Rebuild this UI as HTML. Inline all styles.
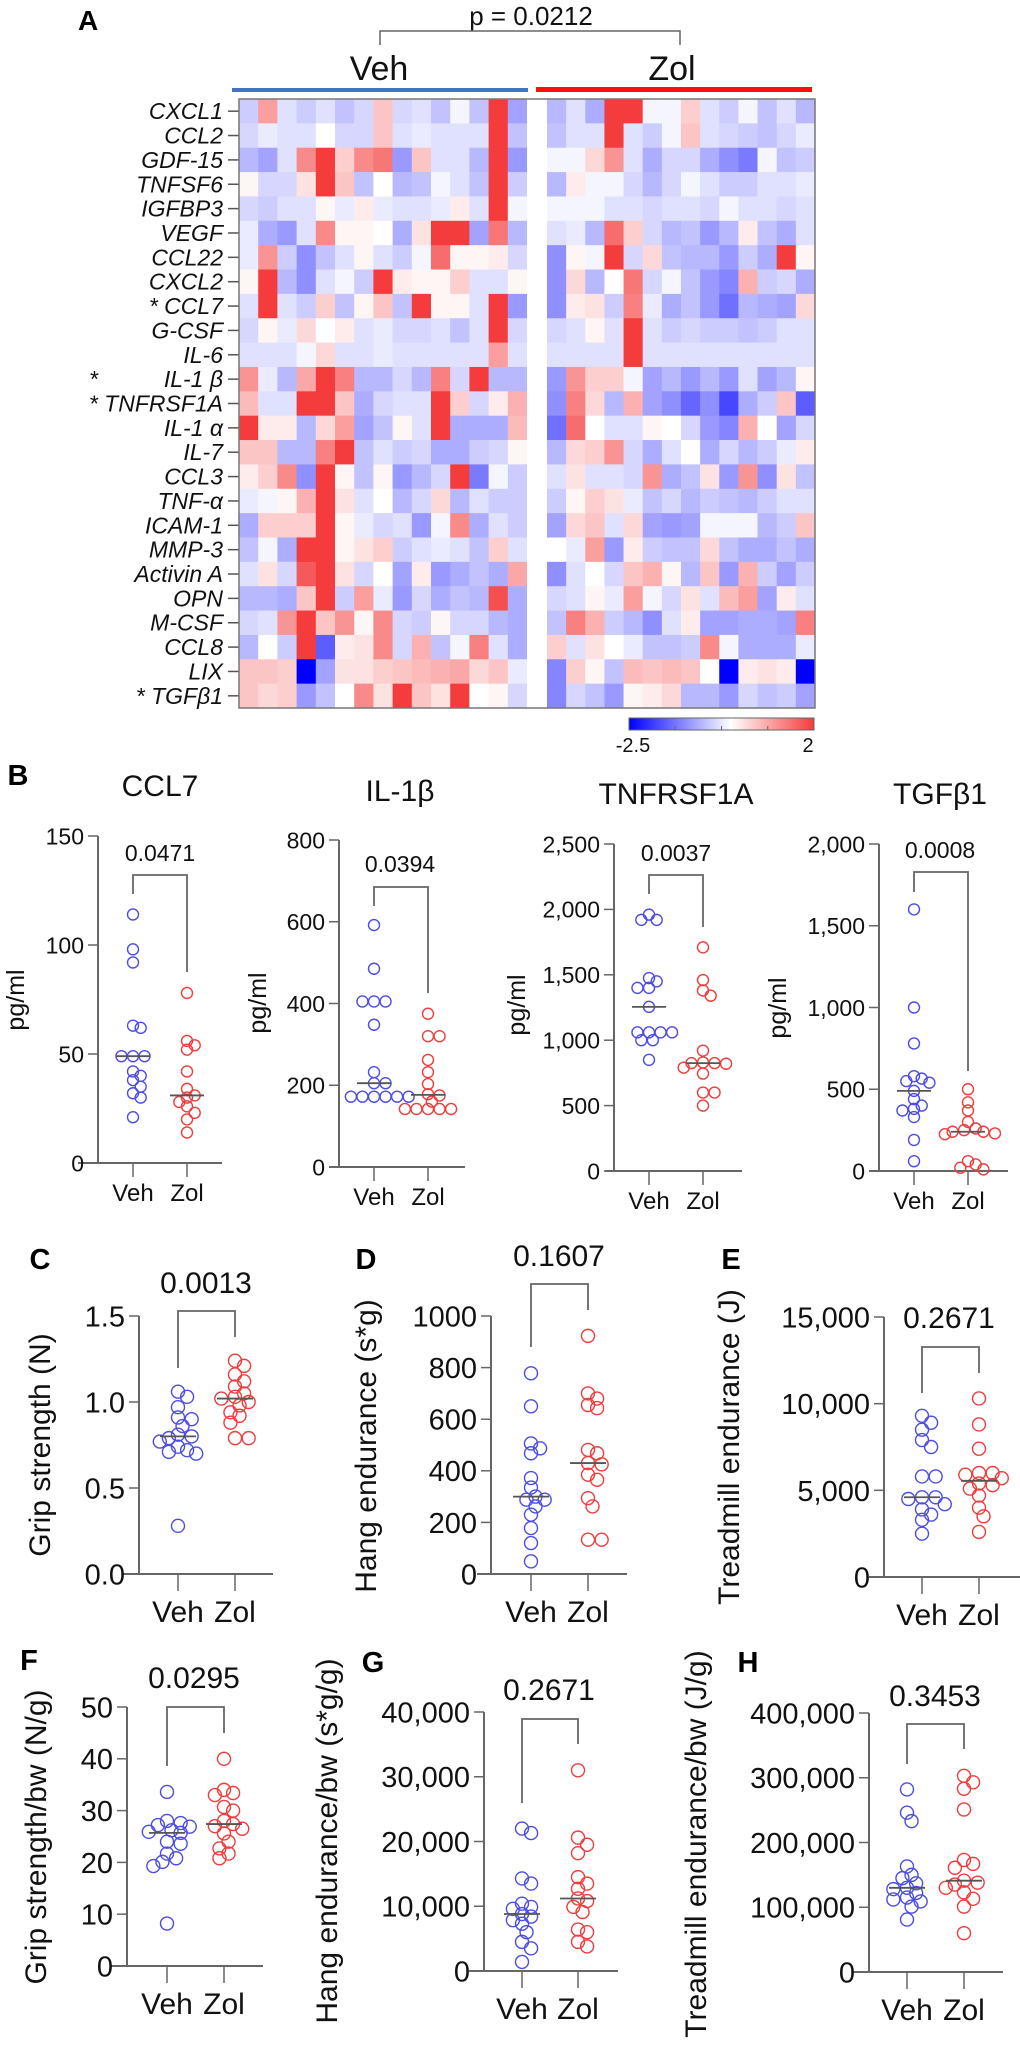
<!DOCTYPE html>
<html><head><meta charset="utf-8"><title>Cytokine heatmap and scatter panels</title>
<style>
html,body{margin:0;padding:0;background:#fff;}
svg{display:block;font-family:"Liberation Sans",Arial,sans-serif;}
</style></head>
<body>
<svg id="fig" width="1020" height="2052" viewBox="0 0 1020 2052" xmlns="http://www.w3.org/2000/svg">
<defs>
<linearGradient id="cbar" x1="0" x2="1" y1="0" y2="0">
<stop offset="0" stop-color="#0000ff"/><stop offset="0.55" stop-color="#ffffff"/><stop offset="1" stop-color="#f43c3c"/>
</linearGradient>
</defs>
<g id="heat"></g>
<g id="scat"></g>
</svg>
<script>
// ---------- Heatmap data ----------
const rowLabels = ["CXCL1","CCL2","GDF-15","TNFSF6","IGFBP3","VEGF","CCL22","CXCL2","* CCL7","G-CSF","IL-6","IL-1 β","* TNFRSF1A","IL-1 α","IL-7","CCL3","TNF-α","ICAM-1","MMP-3","Activin A","OPN","M-CSF","CCL8","LIX","* TGFβ1"];
const vehMatrix = [
[-0.5,1.0,-0.3,-0.5,-0.3,-0.6,-0.4,0.6,-0.4,-0.3,-0.6,-0.1,-0.6,2,-0.9],
[-0.4,-0.2,-0.3,-0.3,0,-0.4,-0.4,0.6,-0.3,-0.2,-0.3,-0.3,-0.3,2,-0.6],
[-0.7,-0.9,-0.3,1.2,2,0.5,1.2,1.4,-1.0,0.6,-0.3,-0.3,-0.7,2,-1.0],
[0.1,-0.4,-0.4,0.3,2,0.6,-0.6,0,-0.7,-0.6,-0.1,-0.3,-0.6,2,-0.5],
[-0.4,-0.5,-0.3,-0.3,0.1,-0.2,0.2,-0.2,-0.3,-0.3,-0.2,0.2,-0.3,2,-0.1],
[-0.2,-0.8,-1.0,-0.3,1.2,0.1,0.1,0,-0.8,0.3,2,2,-0.9,1.4,-0.7],
[-0.2,1.1,-0.5,-1.1,-0.6,-0.3,0.1,-0.3,-0.5,-0.1,1.5,0.1,0.1,0.2,-0.4],
[0.1,2,-0.7,-1.1,-0.3,-0.1,-0.5,2,0.2,0.1,0.1,0.5,-0.3,-0.3,0.1],
[-0.3,2,-0.3,-0.5,0.5,-0.6,0.1,0.6,-0.6,2,0.1,0.1,-0.3,2,-1.0],
[-0.4,0.1,-0.2,0.4,0,0.2,-0.3,-0.2,-0.4,-0.4,-0.3,-0.6,-0.3,2,-0.4],
[-0.3,-0.3,-0.3,-0.1,0.4,-0.3,-0.3,-0.2,-0.3,-0.3,-0.3,-0.3,-0.3,1.0,-0.3],
[1.1,-0.2,-0.7,0.9,2,1.3,-0.7,-0.7,-0.4,-0.7,1.3,-0.4,2,-0.7,-0.7],
[0.7,-0.3,-0.3,2,2,0.6,-0.8,-0.4,-0.3,-0.3,2,0.5,-0.4,0.2,0.8],
[2,0.2,0.2,-0.7,0.4,1.0,-0.9,-0.6,0.1,-0.3,2,-0.8,-0.8,-0.8,0.7],
[0.6,0.6,-0.7,-0.7,1.3,2,-0.6,-0.3,-0.5,-0.4,-0.8,-0.8,-0.5,-0.4,0.1],
[0.2,0.5,1.2,-1.1,2,0.1,-0.6,0.1,-1.0,-0.7,-0.4,2,-1.3,-0.1,-0.5],
[-0.2,-0.1,0.1,0.8,2,0.3,-0.3,0,-0.7,-0.4,0.4,-0.7,-0.3,-0.5,-0.5],
[-0.8,0.5,0.5,0.5,2,0.1,-0.2,-0.4,-0.3,-1.0,-0.1,1.2,-0.8,-0.3,-0.5],
[-0.6,-0.1,-0.8,2,2,0.1,0.3,0.5,-0.5,-0.3,-0.2,-0.3,-0.6,0.5,-0.3],
[-0.3,0.3,-0.4,1.7,2,0.3,-0.4,0,-0.9,0.2,-1.0,-0.8,-0.6,-0.8,0.9],
[-0.7,-0.7,-0.8,0.6,2,-0.5,1.0,-0.2,-1.0,-0.4,-0.8,-0.6,-0.7,1.8,-0.8],
[-0.4,-0.3,1.1,2,0.6,1.1,0.1,1.2,-0.4,-0.5,0.1,-0.4,-0.4,-0.7,-0.8],
[-0.7,0,-0.5,2,-1.6,0.2,0.3,1.2,-0.4,0.8,-0.6,-0.1,1.3,-0.3,-0.8],
[0.6,0.6,0.5,-2.5,-0.9,0.3,0.3,0.5,0.6,0.7,0.8,0.9,0.4,0.6,-0.2],
[0.6,0.4,0.5,-1.0,-0.6,0,1.2,0.3,2,0.6,0.3,2,0,0.1,-0.4]];
const zolMatrix = [
[-0.7,-0.3,-0.8,2,2,-0.1,-0.1,0.5,-0.3,-0.5,-0.1,-0.6,-0.3,-0.7],
[-0.6,-0.3,-0.3,2,-0.3,-0.5,-0.1,0.6,-0.3,-0.4,-0.5,-0.6,-0.4,-0.2],
[-0.1,-0.1,0.4,1.1,-0.3,-0.8,-0.4,-0.4,-0.8,-1.1,-1.3,-0.1,-0.6,-0.5],
[-0.7,0.2,-0.1,-0.1,-0.4,-0.7,-0.4,-0.1,-0.3,-0.5,-0.5,-0.3,-0.3,-0.2],
[-0.1,-0.1,-0.1,-0.3,-0.3,-0.4,-0.3,-0.3,-0.4,-0.1,-0.3,-0.3,-0.4,-0.3],
[-0.3,-0.2,-0.7,1.5,0.5,-0.4,-0.7,-0.6,-1.0,-0.7,0.2,-0.6,-0.8,-0.3],
[-1.1,0.1,-0.1,2,-0.4,0.4,-0.6,-0.7,-0.7,-1.0,-0.5,-0.8,2,0.1],
[-1.1,0.4,-0.7,0,1.4,-0.4,-0.1,-0.6,-1.0,-1.2,0.8,-0.5,-0.4,-0.8],
[-1.1,0.2,0.3,-0.5,1.3,-0.2,-0.8,-0.6,-1.0,-1.4,-0.7,-0.8,-0.9,0.4],
[-0.4,-0.3,0.1,-0.3,2,-0.3,-0.5,-0.4,-0.5,-0.5,-0.6,-0.5,-0.3,-0.3],
[-0.3,-0.3,-0.3,-0.3,2,-0.3,-0.3,-0.3,-0.3,-0.3,-0.3,-0.3,-0.3,-0.3],
[-1.0,1.1,0.5,0.5,-0.1,-0.9,-0.7,-1.0,-0.7,-1.0,-0.3,-0.9,-0.7,0.1],
[-1.1,1.3,0.4,-0.7,0.8,-0.9,-1.1,-1.5,-1.1,-1.8,-0.8,-0.5,0.6,-1.6],
[-1.4,1.5,0,-0.3,-0.3,0.1,0,-0.4,-1.0,-1.2,0.8,0,-0.9,-0.4],
[-0.7,0.4,0.5,1.1,-0.4,-0.8,-0.3,0,-0.8,-0.4,-0.7,-0.5,-0.2,0.2],
[-0.3,0.3,-0.3,-0.3,-0.4,1.1,-0.8,-0.6,0.3,-1.0,1.1,-1.1,0.3,-0.6],
[-0.5,0.1,0.5,0.3,-0.2,-0.6,-0.4,-0.7,-0.5,-0.6,-0.7,-0.5,-0.3,-0.3],
[-0.9,0.4,0.6,-0.3,0.4,-0.9,-1.0,-0.9,-0.1,-0.1,-0.1,-0.7,-0.5,0.6],
[0,-0.2,1.0,-1.0,0.2,-0.5,-0.6,-0.6,0.4,-0.6,-0.8,-0.8,-0.6,-0.8],
[-1.1,-0.3,0,-0.4,0.6,0.8,0.1,-0.7,0.6,-1.0,0.8,-0.5,-0.9,-0.5],
[-0.4,-0.3,0.1,-0.2,1.0,-0.1,-0.4,0.3,-0.3,0.7,1.0,-0.9,0.2,-0.3],
[-0.6,1.3,0.8,-0.5,-0.7,-1.1,-0.3,0.2,-0.9,-0.9,-0.8,-0.8,-0.9,1.3],
[0.5,-0.3,0.3,0,-0.2,-0.6,-0.6,-0.5,1.2,-0.1,-0.8,-0.8,-0.8,-0.2],
[-1.2,0.5,0.1,-0.6,0.7,0.6,0.7,0.6,0,-2.5,0.2,0.3,0.2,-2.5],
[-1.2,-0.4,-0.6,-1.0,0.1,0.2,0.4,-0.7,-0.7,-1.0,-0.4,-0.6,-0.5,-0.9]];
const colorbarTicks = ["-2.5","2"];

// ---------- Scatter data ----------
const groupLabels = ["Veh","Zol"];
const ccl7Veh=[114,98,92,63,62,49,49,49,42,40,38,35,32,30,21];
const ccl7Zol=[78,56,54,52,42,34,31,30,28,26,23,20,14];
const il1bVeh=[592,485,405,405,405,348,232,205,205,172,172,172,172,172,172];
const il1bZol=[375,320,320,262,232,203,178,175,160,142,142,142,142,142];
const tnfVeh=[1960,1920,1920,1475,1450,1400,1400,1255,1060,1060,1060,1060,1000,1000,850];
const tnfZol=[1710,1460,1380,1340,920,830,825,825,820,790,745,600,600,500];
const tgfVeh=[1600,1000,780,580,565,550,540,490,440,400,380,370,330,190,60];
const tgfZol=[500,420,370,300,260,250,240,240,230,225,60,40,20,10];
const gripVeh=[1.06,1.03,0.97,0.91,0.90,0.86,0.81,0.80,0.79,0.77,0.74,0.72,0.71,0.70,0.28];
const gripZol=[1.24,1.21,1.16,1.12,1.09,1.05,1.03,1.02,1.00,0.98,0.94,0.92,0.88,0.79,0.79];
const hangVeh=[778,650,506,487,468,372,335,300,288,288,262,230,178,120,49];
const hangZol=[923,700,680,655,643,481,468,430,425,385,365,294,262,133,133];
const treadVeh=[9300,8900,8500,7900,7500,5800,5800,4600,4600,4500,4200,3900,3600,3300,2500];
const treadZol=[10300,8800,7400,6000,6000,5900,5700,5400,5300,5100,4700,4000,3500,2600];
const gripBwVeh=[33.6,28,27.6,27.2,26.9,26.2,25.9,25.7,24,23.6,21.7,20.8,20.1,19.3,8.2];
const gripBwZol=[40,34,33.4,33,30.7,30,28,27.4,27,26.5,25.6,24,22.7,21.7,20.8];
const hangBwVeh=[22000,21300,14300,13500,10400,9900,9600,8800,8400,7850,7300,6000,4500,3500,1400];
const hangBwZol=[31000,20600,19500,18200,14500,13500,12700,11200,10800,9900,9100,6400,6000,4500,3800];
const treadBwVeh=[282000,246000,233000,163000,150000,145000,137000,130000,128000,122000,115000,112000,109000,101000,81000];
const treadBwZol=[303000,293000,283000,251000,173000,167000,161000,141000,138000,135000,130000,123000,113000,101000,60000];
const ccl7Ticks=[0,50,100,150], il1bTicks=[0,200,400,600,800], tnfTicks=[0,500,1000,1500,2000,2500], tgfTicks=[0,500,1000,1500,2000];
const gripTicks=[0,0.5,1.0,1.5], hangTicks=[0,200,400,600,800,1000], treadTicks=[0,5000,10000,15000];
const gripBwTicks=[0,10,20,30,40,50], hangBwTicks=[0,10000,20000,30000,40000], treadBwTicks=[0,100000,200000,300000,400000];
const pValues=["0.0471","0.0394","0.0037","0.0008","0.0013","0.1607","0.2671","0.0295","0.2671","0.3453"];

const NS="http://www.w3.org/2000/svg";
function mk(parent, tag, attrs, text){
  const e=document.createElementNS(NS,tag);
  for(const k in attrs) e.setAttribute(k,attrs[k]);
  if(text!==undefined) e.textContent=text;
  parent.appendChild(e); return e;
}
function heatColor(v){
  if(v<0){const t=Math.min(1,-v/2.5);return `rgb(${Math.round(255*(1-t))},${Math.round(255*(1-t))},255)`;}
  const t=Math.min(1,v/2);return `rgb(${Math.round(255-11*t)},${Math.round(255-195*t)},${Math.round(255-195*t)})`;
}

// ---------- Draw heatmap ----------
const heat=document.getElementById('heat');
const HM={y0:99,rowH:24.36,vehX0:239,vehW:19.2,zolX0:547,zolW:19.14};
rowLabels.forEach((lab,r)=>{
  const yc=HM.y0+r*HM.rowH;
  vehMatrix[r].forEach((v,c)=>{
    const cell=mk(heat,'rect',{x:HM.vehX0+c*HM.vehW,y:yc,width:HM.vehW+0.4,height:HM.rowH+0.4,fill:heatColor(v)});
    
    
  });
  zolMatrix[r].forEach((v,c)=>{
    const cell=mk(heat,'rect',{x:HM.zolX0+c*HM.zolW,y:yc,width:HM.zolW+0.4,height:HM.rowH+0.4,fill:heatColor(v)});
    
    
  });
  const t=mk(heat,'text',{x:223,y:yc+HM.rowH/2+8,'text-anchor':'end','font-size':23,'font-style':'italic',fill:'#111'},lab);
  
  
  mk(heat,'line',{x1:228,x2:239,y1:yc+HM.rowH/2,y2:yc+HM.rowH/2,stroke:'#555','stroke-width':1.5});
});
const hmBottom=HM.y0+rowLabels.length*HM.rowH;
mk(heat,'rect',{x:HM.vehX0+15*HM.vehW,y:HM.y0,width:HM.zolX0-(HM.vehX0+15*HM.vehW),height:hmBottom-HM.y0,fill:'#fff'});
mk(heat,'rect',{x:239,y:99,width:576,height:hmBottom-99,fill:'none',stroke:'#777','stroke-width':1.5});
const star=mk(heat,'text',{x:90,y:HM.y0+11*HM.rowH+HM.rowH/2+8,'font-size':23,fill:'#111'},'*');


mk(heat,'text',{x:78,y:30,'font-size':28,'font-weight':'bold',fill:'#000',},'A');
mk(heat,'text',{x:531,y:25,'font-size':26,'text-anchor':'middle',fill:'#111',},'p = 0.0212');
mk(heat,'path',{d:'M380 45 V31 H680 V45',fill:'none',stroke:'#666','stroke-width':1.5,});
mk(heat,'text',{x:379,y:80,'font-size':34,'text-anchor':'middle',fill:'#111',},'Veh');
mk(heat,'text',{x:672,y:80,'font-size':34,'text-anchor':'middle',fill:'#111',},'Zol');
mk(heat,'rect',{x:232,y:88,width:296,height:4,fill:'#4472c4',});
mk(heat,'rect',{x:536,y:87,width:276,height:5,fill:'#ff1010',});
mk(heat,'rect',{x:629,y:718,width:185,height:12,fill:'url(#cbar)',stroke:'#666','stroke-width':1,});
[0.25,0.5,0.75].forEach(f=>mk(heat,'line',{x1:629+185*f,x2:629+185*f,y1:726,y2:730,stroke:'#666','stroke-width':1}));
mk(heat,'text',{x:633,y:752,'font-size':20,'text-anchor':'middle',fill:'#111',},colorbarTicks[0]);
mk(heat,'text',{x:808,y:752,'font-size':20,'text-anchor':'middle',fill:'#111',},colorbarTicks[1]);

// ---------- Scatter panels ----------
const scat=document.getElementById('scat');
function fmt(v,dec,nocomma){ if(dec) return v.toFixed(1); if(nocomma) return String(v); return v.toLocaleString('en-US'); }
function median(a){const s=[...a].sort((x,y)=>x-y);const n=s.length;return n%2?s[(n-1)/2]:(s[n/2-1]+s[n/2])/2;}
function swarm(vals,cx,yf,r){
  const placed=[];const out=[];
  const order=vals.map((v,i)=>i).sort((a,b)=>vals[b]-vals[a]);
  const minD=1.45*r;
  order.forEach(i=>{
    const y=yf(vals[i]);
    for(let k=0;k<40;k++){
      const off=(k%2?1:-1)*Math.ceil(k/2)*r*0.7;
      const x=cx+off;
      if(placed.every(p=>(p.x-x)**2+(p.y-y)**2>=minD*minD)){placed.push({x,y});out.push({x,y});break;}
    }
  });
  return out;
}
function panel(cfg){
  const g=mk(scat,'g',{});
  
  
  const t=cfg.ticks, ymin=t[0], ymax=t[t.length-1];
  const yf=v=>cfg.y0+(v-ymin)/(ymax-ymin)*(cfg.yTop-cfg.y0);
  mk(g,'line',{x1:cfg.ax,x2:cfg.ax,y1:cfg.y0,y2:cfg.yTop,stroke:'#666','stroke-width':2});
  mk(g,'line',{x1:cfg.xl,x2:cfg.xr,y1:cfg.y0,y2:cfg.y0,stroke:'#666','stroke-width':2});
  t.forEach(v=>{
    const y=yf(v);
    mk(g,'line',{x1:cfg.ax-10,x2:cfg.ax,y1:y,y2:y,stroke:'#666','stroke-width':1.5});
    const tl=mk(g,'text',{x:cfg.ax-14,y:y+cfg.fs*0.36,'text-anchor':'end','font-size':cfg.fs,fill:'#111'},fmt(v,cfg.dec,cfg.nocomma));
    
    
  });
  [cfg.vx,cfg.zx].forEach((x,i)=>{
    mk(g,'line',{x1:x,x2:x,y1:cfg.y0,y2:cfg.y0+cfg.tk,stroke:'#666','stroke-width':1.5});
    const xl=mk(g,'text',{x:x,y:cfg.y0+cfg.lab,'text-anchor':'middle','font-size':cfg.xfs,fill:'#111'},groupLabels[i]);
    
    
  });
  const yt=mk(g,'text',{x:0,y:0,'text-anchor':'middle','font-size':cfg.yfs,fill:'#111',transform:`translate(${cfg.ytx},${cfg.yty}) rotate(-90)`},cfg.ytitle);
  
  
  if(cfg.title){
    const tt=mk(g,'text',{x:cfg.tx,y:cfg.ty,'text-anchor':'middle','font-size':30,fill:'#111'},cfg.title);
    
    
  }
  if(cfg.letter){
    const lt=mk(g,'text',{x:cfg.lx,y:cfg.ly,'text-anchor':'middle','font-size':29,'font-weight':'bold',fill:'#000'},cfg.letter);
    
    
  }
  const pv=mk(g,'text',{x:cfg.px,y:cfg.py,'text-anchor':'middle','font-size':cfg.pfs,fill:'#111'},cfg.p);
  
  
  const br=mk(g,'path',{d:`M${cfg.vx} ${cfg.bv} V${cfg.bt} H${cfg.zx} V${cfg.bz}`,fill:'none',stroke:'#666','stroke-width':1.8});
  
  
  [[cfg.veh,cfg.vx,'#4c4ce6'],[cfg.zol,cfg.zx,'#f03c3c']].forEach(([vals,cx,col],gi)=>{
    swarm(vals,cx,yf,cfg.r).forEach(p=>{
      const c=mk(g,'circle',{cx:p.x,cy:p.y,r:cfg.r,fill:'none',stroke:col,'stroke-width':1.4});
      
      
    });
    const my=yf(median(vals));
    const ml=mk(g,'line',{x1:cx-cfg.mw,x2:cx+cfg.mw,y1:my,y2:my,stroke:'#555','stroke-width':1.8});
    
    
  });
}
const B={fs:23,xfs:24,yfs:25,pfs:23,r:5.5,mw:17,tk:14,lab:38};
panel({...B,name:'panel-ccl7',ticks:ccl7Ticks,veh:ccl7Veh,zol:ccl7Zol,ax:98,y0:1163,yTop:836,xl:78,xr:222,vx:133,zx:187,ytitle:'pg/ml',ytx:24,yty:1000,title:'CCL7',tx:160,ty:796,letter:'B',lx:18,ly:785,p:pValues[0],px:160,py:861,bt:875,bv:894,bz:972});
panel({...B,name:'panel-il1b',ticks:il1bTicks,veh:il1bVeh,zol:il1bZol,ax:339,y0:1167,yTop:840,xl:329,xr:465,vx:374,zx:428,ytitle:'pg/ml',ytx:266,yty:1003,title:'IL-1β',tx:400,ty:801,p:pValues[1],px:400,py:872,bt:887,bv:906,bz:993});
panel({...B,name:'panel-tnfrsf1a',ticks:tnfTicks,veh:tnfVeh,zol:tnfZol,ax:614,y0:1171,yTop:844,xl:605,xr:742,vx:649,zx:703,ytitle:'pg/ml',ytx:525,yty:1005,title:'TNFRSF1A',tx:676,ty:804,p:pValues[2],px:676,py:861,bt:875,bv:894,bz:927});
panel({...B,name:'panel-tgfb1',ticks:tgfTicks,veh:tgfVeh,zol:tgfZol,ax:879,y0:1171,yTop:844,xl:869,xr:1008,vx:914,zx:968,ytitle:'pg/ml',ytx:786,yty:1008,title:'TGFβ1',tx:940,ty:804,p:pValues[3],px:940,py:858,bt:872,bv:892,bz:1071});
const C={fs:29,xfs:30,yfs:30,pfs:30,r:6.5,mw:18,tk:17,lab:48};
panel({...C,name:'panel-grip-strength',dec:true,ticks:gripTicks,veh:gripVeh,zol:gripZol,ax:139,y0:1574,yTop:1316,xl:123,xr:273,vx:178,zx:235,ytitle:'Grip strength (N)',ytx:50,yty:1445,letter:'C',lx:40,ly:1269,p:pValues[4],px:206,py:1293,bt:1311,bv:1368,bz:1337});
panel({...C,name:'panel-hang-endurance',nocomma:true,ticks:hangTicks,veh:hangVeh,zol:hangZol,ax:491,y0:1574,yTop:1316,xl:477,xr:627,vx:531,zx:588,ytitle:'Hang endurance (s*g)',ytx:376,yty:1446,letter:'D',lx:366,ly:1269,p:pValues[5],px:559,py:1266,bt:1284,bv:1347,bz:1310});
panel({...C,name:'panel-treadmill-endurance',ticks:treadTicks,veh:treadVeh,zol:treadZol,ax:884,y0:1577,yTop:1317,xl:869,xr:1020,vx:922,zx:979,ytitle:'Treadmill endurance (J)',ytx:739,yty:1447,letter:'E',lx:731,ly:1269,p:pValues[6],px:949,py:1328,bt:1347,bv:1393,bz:1373});
panel({...C,name:'panel-grip-strength-bw',ticks:gripBwTicks,veh:gripBwVeh,zol:gripBwZol,ax:127,y0:1966,yTop:1707,xl:111,xr:263,vx:167,zx:224,ytitle:'Grip strength/bw (N/g)',ytx:46,yty:1837,letter:'F',lx:29,ly:1670,p:pValues[7],px:194,py:1688,bt:1707,bv:1766,bz:1733});
panel({...C,name:'panel-hang-endurance-bw',ticks:hangBwTicks,veh:hangBwVeh,zol:hangBwZol,ax:484,y0:1971,yTop:1712,xl:469,xr:618,vx:522,zx:578,ytitle:'Hang endurance/bw (s*g/g)',ytx:337,yty:1841,letter:'G',lx:373,ly:1672,p:pValues[8],px:549,py:1700,bt:1719,bv:1803,bz:1744});
panel({...C,name:'panel-treadmill-endurance-bw',ticks:treadBwTicks,veh:treadBwVeh,zol:treadBwZol,ax:869,y0:1972,yTop:1713,xl:853,xr:1003,vx:907,zx:964,ytitle:'Treadmill endurance/bw (J/g)',ytx:706,yty:1844,letter:'H',lx:748,ly:1672,p:pValues[9],px:935,py:1706,bt:1724,bv:1764,bz:1749});
</script>
</body></html>
